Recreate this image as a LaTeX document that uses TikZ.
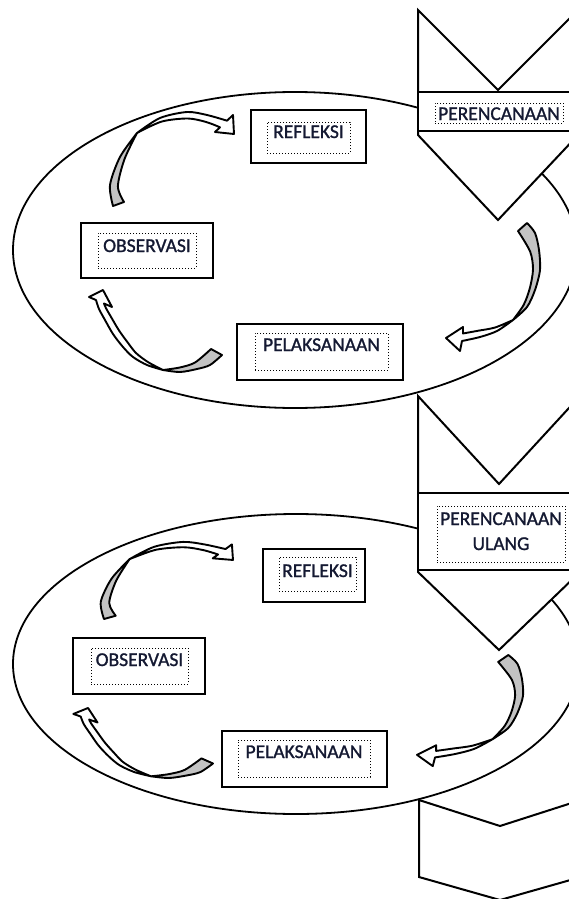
\documentclass[tikz,border=0pt]{standalone}
\usepackage{fontspec}
\setmainfont{Carlito}
\newfontfamily\lblfont[FakeBold=1.2]{Carlito}
\definecolor{txt}{RGB}{20,25,50}
\definecolor{arrgrey}{RGB}{195,195,195}
\newcommand\arrA{%
 \filldraw[arrowline, fill=arrgrey] plot[smooth] coordinates {(113,206) (110,185) (120,157) (137,133)} -- plot[smooth] coordinates {(137,133) (124.4,159.4) (117.9,186.4) (124,202)} -- cycle;
 \filldraw[arrowline, fill=white] plot[smooth] coordinates {(137,133) (160,118) (187,112) (207,115) (227,120.7)} -- (233,115) -- (234,134) -- (215,132) -- (220,127.3) -- plot[smooth] coordinates {(220,127.3) (206.2,122) (187.7,118.5) (161.6,121.6) (137,133)} -- cycle;
}
\newcommand\arrB{%
 \filldraw[arrowline, fill=arrgrey] plot[smooth] coordinates {(527,223) (535,233) (539,250) (540,270) (535,290) (527,307) (513,320)} -- plot[smooth] coordinates {(513,320) (523.7,304.8) (529.9,287.9) (533,269.2) (530.1,251.5) (518,231)} -- cycle;
 \filldraw[arrowline, fill=white] plot[smooth] coordinates {(513,320) (497,331) (480,337) (462,341)} -- (460,351) -- (446,338) -- (463,327) -- (463,333.5) -- plot[smooth] coordinates {(463,333.5) (478.3,330.7) (495.1,327.5) (513,320)} -- cycle;
}
\newcommand\arrC{%
 \filldraw[arrowline, fill=arrgrey] plot[smooth] coordinates {(222,355) (210,365) (197,369) (180,372) (163,370)} -- plot[smooth] coordinates {(163,370) (179.7,367.5) (195,362.5) (211,349)} -- cycle;
 \filldraw[arrowline, fill=white] plot[smooth] coordinates {(163,370) (147,365) (133,357) (123,347) (113,334) (105,320) (99,309) (96,300)} -- (89,297) -- (103,290) -- (112,307) -- (104,303.5) -- plot[smooth] coordinates {(104,303.5) (106,308.2) (111.7,318.1) (119.1,330.6) (127.8,342.6) (136,353) (148.2,362.2) (163,370)} -- cycle;
}
\begin{document}
\begin{tikzpicture}[x=1pt,y=-1pt,
  outerbox/.style={draw, line width=2.5pt, fill=white, inner sep=0pt},
  innerbox/.style={draw, dotted, line width=1pt, inner sep=0pt},
  lbl/.style={font=\lblfont\fontsize{19.5}{24}\selectfont, text=txt, inner sep=0pt},
  shapeline/.style={line width=2pt, line join=miter, fill=white},
  bandline/.style={line width=2.6pt, fill=white},
  ellipseline/.style={line width=1.8pt},
  arrowline/.style={line width=1.9pt, line join=round}]
\useasboundingbox (0,0) rectangle (569,899);
\clip (0,0) rectangle (569,899);
\fill[white] (0,0) rectangle (569,899);
% ellipses
\draw[ellipseline] (295,250) ellipse [x radius=282pt, y radius=158pt];
\draw[ellipseline] (296,664) ellipse [x radius=283pt, y radius=150pt];
% chevrons
\filldraw[shapeline] (418,10) -- (498,90) -- (578,10) -- (578,135) -- (498,220) -- (418,135) -- cycle;
\filldraw[bandline] (418,92) rectangle (600,131);
\filldraw[shapeline] (418,396) -- (499,484) -- (580,396) -- (580,572) -- (499,650) -- (418,572) -- cycle;
\filldraw[bandline] (418,493) rectangle (600,570);
\filldraw[shapeline] (419,800) -- (500,826) -- (581,800) -- (581,877) -- (500,900) -- (419,877) -- cycle;
% chevron labels
\node[innerbox, minimum width=128pt, minimum height=20pt] (c1in) at (499,113) {};
\node[lbl, anchor=base] (c1txt) at (499,120) {PERENCANAAN};
\node[innerbox, minimum width=128pt, minimum height=56pt] (c2in) at (501,534) {};
\node[lbl, anchor=base] (c2txta) at (501,525) {PERENCANAAN};
\node[lbl, anchor=base] (c2txtb) at (501,550) {ULANG};
% cycle 1 boxes
\node[outerbox, minimum width=115pt, minimum height=53pt] (r1box) at (308.5,136.5) {};
\node[innerbox, minimum width=83pt, minimum height=31pt] (r1in) at (308.5,137.5) {};
\node[lbl, anchor=base] (r1txt) at (308.5,138) {REFLEKSI};
\node[outerbox, minimum width=132pt, minimum height=55pt] (o1box) at (147,250.5) {};
\node[innerbox, minimum width=98pt, minimum height=35pt] (o1in) at (147,250.5) {};
\node[lbl, anchor=base] (o1txt) at (147,252) {OBSERVASI};
\node[outerbox, minimum width=166pt, minimum height=56pt] (p1box) at (320,352) {};
\node[innerbox, minimum width=133pt, minimum height=37pt] (p1in) at (321.5,351.5) {};
\node[lbl, anchor=base] (p1txt) at (321.5,351) {PELAKSANAAN};
% cycle 2 boxes
\node[outerbox, minimum width=102pt, minimum height=53pt] (r2box) at (314,575.5) {};
\node[innerbox, minimum width=77pt, minimum height=34pt] (r2in) at (317.5,574) {};
\node[lbl, anchor=base] (r2txt) at (317.5,577) {REFLEKSI};
\node[outerbox, minimum width=132pt, minimum height=56pt] (o2box) at (139,666) {};
\node[innerbox, minimum width=97pt, minimum height=36pt] (o2in) at (139.5,666) {};
\node[lbl, anchor=base] (o2txt) at (139.5,666) {OBSERVASI};
\node[outerbox, minimum width=165pt, minimum height=56pt] (p2box) at (304.5,759) {};
\node[innerbox, minimum width=132pt, minimum height=37pt] (p2in) at (304,758.5) {};
\node[lbl, anchor=base] (p2txt) at (304,758) {PELAKSANAAN};
% curved arrows, cycle 1
\arrA
\arrB
\arrC
% curved arrows, cycle 2
\begin{scope}[shift={(104,619)}, xscale=1.066, yscale=0.82, shift={(-113,-206)}]
\arrA
\end{scope}
\begin{scope}[shift={(523,655)}, xscale=1.128, yscale=0.868, shift={(-540,-223)}]
\arrB
\end{scope}
\begin{scope}[shift={(213,778)}, xscale=1.05, yscale=0.854, shift={(-222,-372)}]
\arrC
\end{scope}
\end{tikzpicture}
\end{document}
